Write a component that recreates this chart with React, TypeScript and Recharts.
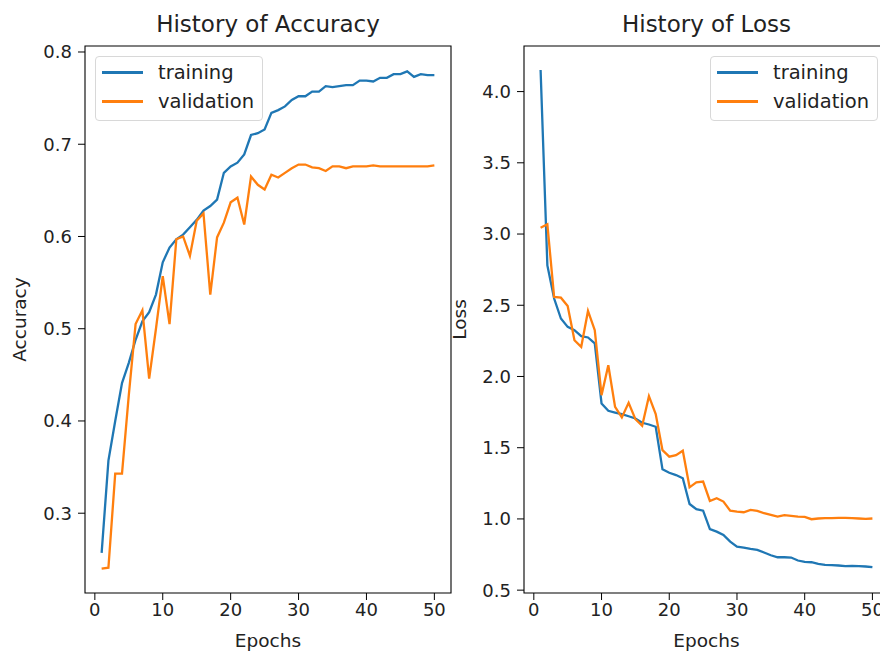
import { LineChart, Line, XAxis, YAxis, Legend, ReferenceArea, Label } from 'recharts'

const EPOCHS = Array.from({ length: 50 }, (_, i) => i + 1)

const ACC_TRAIN = [
  0.257, 0.357, 0.400, 0.441, 0.463, 0.488, 0.508, 0.518, 0.537, 0.572,
  0.588, 0.597, 0.602, 0.610, 0.618, 0.628, 0.633, 0.640, 0.669, 0.676,
  0.680, 0.689, 0.710, 0.712, 0.716, 0.734, 0.737, 0.741, 0.748, 0.752,
  0.752, 0.757, 0.757, 0.763, 0.762, 0.763, 0.764, 0.764, 0.769, 0.769,
  0.768, 0.772, 0.772, 0.776, 0.776, 0.779, 0.773, 0.776, 0.775, 0.775,
]
const ACC_VAL = [
  0.240, 0.241, 0.343, 0.343, 0.428, 0.505, 0.520, 0.446, 0.500, 0.557,
  0.505, 0.597, 0.600, 0.579, 0.617, 0.625, 0.537, 0.599, 0.615, 0.637,
  0.642, 0.613, 0.665, 0.656, 0.651, 0.667, 0.664, 0.669, 0.674, 0.678,
  0.678, 0.675, 0.674, 0.671, 0.676, 0.676, 0.674, 0.676, 0.676, 0.676,
  0.677, 0.676, 0.676, 0.676, 0.676, 0.676, 0.676, 0.676, 0.676, 0.677,
]
const LOSS_TRAIN = [
  4.152, 2.780, 2.547, 2.407, 2.348, 2.325, 2.283, 2.274, 2.232, 1.811,
  1.759, 1.747, 1.735, 1.721, 1.705, 1.675, 1.663, 1.647, 1.348, 1.324,
  1.308, 1.285, 1.105, 1.068, 1.058, 0.928, 0.911, 0.888, 0.841, 0.806,
  0.799, 0.790, 0.783, 0.764, 0.745, 0.731, 0.731, 0.729, 0.708, 0.698,
  0.696, 0.684, 0.677, 0.675, 0.673, 0.668, 0.671, 0.668, 0.666, 0.661,
]
const LOSS_VAL = [
  3.044, 3.068, 2.558, 2.553, 2.495, 2.254, 2.208, 2.460, 2.325, 1.869,
  2.079, 1.787, 1.713, 1.815, 1.700, 1.654, 1.862, 1.736, 1.483, 1.437,
  1.448, 1.479, 1.222, 1.257, 1.262, 1.126, 1.145, 1.122, 1.058, 1.051,
  1.047, 1.063, 1.056, 1.040, 1.028, 1.016, 1.026, 1.021, 1.016, 1.014,
  0.998, 1.003, 1.005, 1.005, 1.007, 1.007, 1.005, 1.003, 1.001, 1.003,
]

const X_TICKS = [0, 10, 20, 30, 40, 50]
const ACC_TICKS = [0.3, 0.4, 0.5, 0.6, 0.7, 0.8]
const LOSS_TICKS = [0.5, 1.0, 1.5, 2.0, 2.5, 3.0, 3.5, 4.0]

const X_DOMAIN: [number, number] = [-1.45, 52.45]
const ACC_DOMAIN: [number, number] = [0.2135, 0.8065]
const LOSS_DOMAIN: [number, number] = [0.48, 4.32]

const FONT = '"DejaVu Sans", sans-serif'
const TEXT = '#222'
const BLUE = '#1f77b4'
const ORANGE = '#ff7f0e'

const accData = EPOCHS.map((e, i) => ({ epoch: e, training: ACC_TRAIN[i], validation: ACC_VAL[i] }))
const lossData = EPOCHS.map((e, i) => ({ epoch: e, training: LOSS_TRAIN[i], validation: LOSS_VAL[i] }))

function BoxLegend({ payload }: any) {
  return (
    <div style={{
      width: 168, height: 65, boxSizing: 'border-box', border: '1px solid #d8d8d8', borderRadius: 4,
      background: 'rgba(255,255,255,0.8)', fontFamily: FONT, fontSize: 19.5, color: TEXT, paddingTop: 1,
    }}>
      {(payload || []).map((p: any) => (
        <div key={p.value} style={{ display: 'flex', alignItems: 'center', height: 29 }}>
          <span style={{ display: 'inline-block', width: 41, height: 2.3, background: p.color, marginLeft: 6 }} />
          <span style={{ marginLeft: 15, lineHeight: '29px' }}>{p.value}</span>
        </div>
      ))}
    </div>
  )
}

type PanelProps = {
  data: any[]
  yDomain: [number, number]
  yTicks: number[]
  yLabel: string
  legendLeft: number
  width: number
  yWidth: number
  right: number
}

function Panel({ data, yDomain, yTicks, yLabel, legendLeft, width, yWidth, right }: PanelProps) {
  const tick = { fontSize: 18, fill: TEXT, fontFamily: FONT }
  return (
    <LineChart width={width} height={652} data={data} margin={{ top: 46, right, bottom: 0, left: 0 }}>
      <XAxis
        dataKey="epoch" type="number" domain={X_DOMAIN} ticks={X_TICKS} interval={0}
        allowDataOverflow axisLine={false} tickLine={{ stroke: '#000' }} tickSize={7} tickMargin={3}
        tick={tick} height={59}
      >
        <Label value="Epochs" position="insideBottom" offset={5} style={{ fontSize: 18.5, fill: TEXT, fontFamily: FONT }} />
      </XAxis>
      <YAxis
        type="number" domain={yDomain} ticks={yTicks} interval={0} allowDataOverflow
        axisLine={false} tickLine={{ stroke: '#000' }} tickSize={7} tickMargin={6}
        tick={tick} tickFormatter={(v: number) => v.toFixed(1)} width={yWidth}
      >
        <Label value={yLabel} angle={-90} position="insideLeft" offset={19}
          style={{ fontSize: 18.5, fill: TEXT, fontFamily: FONT, textAnchor: 'middle' }} />
      </YAxis>
      <ReferenceArea x1={X_DOMAIN[0]} x2={X_DOMAIN[1]} y1={yDomain[0]} y2={yDomain[1]}
        fill="none" fillOpacity={0} stroke="#000" strokeWidth={1.1} />
      <Line type="linear" dataKey="training" name="training" stroke={BLUE} strokeWidth={2.3} dot={false} isAnimationActive={false} />
      <Line type="linear" dataKey="validation" name="validation" stroke={ORANGE} strokeWidth={2.3} dot={false} isAnimationActive={false} />
      <Legend layout="horizontal" verticalAlign="middle" align="center" content={<BoxLegend />}
        wrapperStyle={{ position: 'absolute', left: legendLeft, top: 56, width: 168, height: 65 }} />
    </LineChart>
  )
}

const titleStyle = (left: number, width: number): React.CSSProperties => ({
  position: 'absolute', left, width, top: 13, textAlign: 'center',
  fontFamily: FONT, fontSize: 23, lineHeight: '23px', color: TEXT,
})

export default function App() {
  return (
    <div style={{ position: 'absolute', left: 0, top: 0, width: 880, height: 652, overflow: 'hidden', background: '#fff' }}>
      <div style={{ position: 'absolute', left: 0, top: 0 }}>
        <Panel data={accData} yDomain={ACC_DOMAIN} yTicks={ACC_TICKS} yLabel="Accuracy"
          legendLeft={95} width={460} yWidth={85} right={9} />
      </div>
      <div style={{ position: 'absolute', left: 440, top: 0 }}>
        <Panel data={lossData} yDomain={LOSS_DOMAIN} yTicks={LOSS_TICKS} yLabel="Loss"
          legendLeft={270} width={460} yWidth={84} right={11} />
      </div>
      <div style={titleStyle(85, 366)}>History of Accuracy</div>
      <div style={titleStyle(524, 365)}>History of Loss</div>
    </div>
  )
}
